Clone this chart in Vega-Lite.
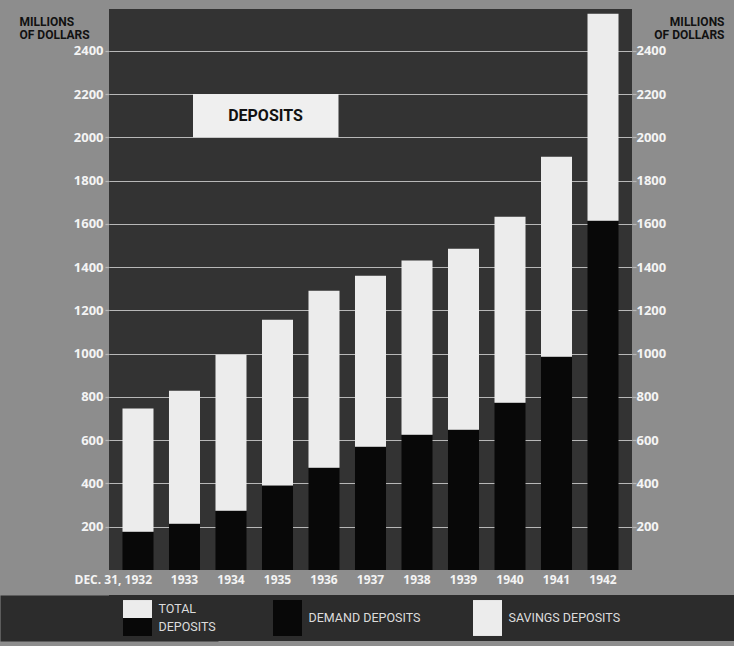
{
  "$schema": "https://vega.github.io/schema/vega-lite/v6.json",
  "background": "#8d8d8d",
  "padding": {"left": 0, "top": 9, "right": 0, "bottom": 5},
  "spacing": 10,
  "config": {"view": {"stroke": null}},
  "datasets": {
    "deposits": [
      {"year": 1932, "series": "Demand", "amount": 177},
      {"year": 1932, "series": "Savings", "amount": 569},
      {"year": 1933, "series": "Demand", "amount": 214},
      {"year": 1933, "series": "Savings", "amount": 615},
      {"year": 1934, "series": "Demand", "amount": 274},
      {"year": 1934, "series": "Savings", "amount": 721},
      {"year": 1935, "series": "Demand", "amount": 390},
      {"year": 1935, "series": "Savings", "amount": 767},
      {"year": 1936, "series": "Demand", "amount": 473},
      {"year": 1936, "series": "Savings", "amount": 818},
      {"year": 1937, "series": "Demand", "amount": 570},
      {"year": 1937, "series": "Savings", "amount": 790},
      {"year": 1938, "series": "Demand", "amount": 625},
      {"year": 1938, "series": "Savings", "amount": 805},
      {"year": 1939, "series": "Demand", "amount": 648},
      {"year": 1939, "series": "Savings", "amount": 837},
      {"year": 1940, "series": "Demand", "amount": 773},
      {"year": 1940, "series": "Savings", "amount": 860},
      {"year": 1941, "series": "Demand", "amount": 986},
      {"year": 1941, "series": "Savings", "amount": 924},
      {"year": 1942, "series": "Demand", "amount": 1614},
      {"year": 1942, "series": "Savings", "amount": 957}
    ],
    "titlebox": [
      {"label": "DEPOSITS", "from": 1933, "to": 1936, "at": 1935, "low": 2000, "high": 2200, "mid": 2100}
    ],
    "legend": [
      {"item": "TOTAL", "half": "upper", "series": "Savings"},
      {"item": "TOTAL", "half": "lower", "series": "Demand"},
      {"item": "DEMAND", "half": "upper", "series": "Demand"},
      {"item": "DEMAND", "half": "lower", "series": "Demand"},
      {"item": "SAVINGS", "half": "upper", "series": "Savings"},
      {"item": "SAVINGS", "half": "lower", "series": "Savings"}
    ],
    "legendtotal": [
      {"item": "TOTAL", "half": "upper", "label": "TOTAL"},
      {"item": "TOTAL", "half": "lower", "label": "DEPOSITS"}
    ],
    "legendlabels": [
      {"item": "DEMAND", "label": "DEMAND DEPOSITS"},
      {"item": "SAVINGS", "label": "SAVINGS DEPOSITS"}
    ]
  },
  "vconcat": [
    {
      "width": 523,
      "height": 561,
      "view": {"fill": "#333333", "stroke": null},
      "layer": [
        {
          "data": {"name": "deposits"},
          "mark": {"type": "bar"},
          "encoding": {
            "x": {
              "field": "year", "type": "ordinal",
              "scale": {"paddingInner": 0.333, "paddingOuter": 0.29},
              "axis": {
                "title": null, "labelAngle": 0, "ticks": false, "domain": false,
                "labelColor": "#f4f4f4", "labelFont": "Open Sans", "labelFontWeight": "bold", "labelFontSize": 12,
                "labelPadding": 4,
                "labelExpr": "datum.value == 1932 ? 'DEC. 31,  1932' : datum.label",
                "labelAlign": {"condition": {"test": "datum.value == 1932", "value": "right"}, "value": "center"},
                "labelOffset": {"condition": {"test": "datum.value == 1932", "value": 14}, "value": 0}
              }
            },
            "y": {
              "field": "amount", "type": "quantitative", "stack": "zero",
              "scale": {"domain": [0, 2593], "nice": false, "zero": true},
              "axis": {
                "orient": "left", "values": [200,400,600,800,1000,1200,1400,1600,1800,2000,2200,2400], "format": "d",
                "grid": true, "gridColor": "#b8b8b8", "gridWidth": 1.2, "domain": false,
                "tickColor": "#b8b8b8", "tickSize": 4, "tickWidth": 1.2,
                "labelColor": "#f4f4f4", "labelFont": "Open Sans", "labelFontWeight": "bold", "labelFontSize": 13, "labelPadding": 2,
                "minExtent": 109,
                "title": ["MILLIONS", "OF DOLLARS"],
                "titleFont": "Roboto",
                "titleFontSize": 12, "titleFontWeight": "bold", "titleColor": "#111111",
                "titleAngle": 0, "titleAlign": "left", "titleBaseline": "alphabetic",
                "titleX": -90, "titleY": 16, "titleLineHeight": 13
              }
            },
            "color": {"field": "series", "type": "nominal", "scale": {"domain": ["Demand", "Savings"], "range": ["#080808", "#ececec"]}, "legend": null},
            "order": {"field": "series", "sort": "ascending"}
          }
        },
        {
          "data": {"name": "titlebox"},
          "mark": {"type": "rect", "color": "#efefef", "xOffset": 8.5, "x2Offset": 14.5},
          "encoding": {
            "x": {"field": "from", "type": "ordinal"},
            "x2": {"field": "to"},
            "y": {
              "field": "low", "type": "quantitative",
              "scale": {"domain": [0, 2593], "nice": false, "zero": true},
              "axis": {
                "orient": "right", "values": [200,400,600,800,1000,1200,1400,1600,1800,2000,2200,2400], "format": "d",
                "grid": false, "domain": false,
                "tickColor": "#b8b8b8", "tickSize": 4, "tickWidth": 1.2,
                "labelColor": "#f4f4f4", "labelFont": "Open Sans", "labelFontWeight": "bold", "labelFontSize": 13, "labelPadding": 0,
                "title": ["MILLIONS", "OF DOLLARS"],
                "titleFont": "Roboto",
                "titleFontSize": 12, "titleFontWeight": "bold", "titleColor": "#111111",
                "titleAngle": 0, "titleAlign": "right", "titleBaseline": "alphabetic",
                "titleX": 92, "titleY": 16, "titleLineHeight": 13
              }
            },
            "y2": {"field": "high"}
          }
        },
        {
          "data": {"name": "titlebox"},
          "mark": {"type": "text", "font": "Roboto", "fontSize": 16, "fontWeight": "bold", "color": "#111111", "dx": -12, "baseline": "middle", "align": "center"},
          "encoding": {
            "x": {"field": "at", "type": "ordinal"},
            "y": {"field": "mid", "type": "quantitative", "scale": {"domain": [0, 2593], "nice": false, "zero": true}, "axis": null},
            "text": {"field": "label"}
          }
        }
      ],
      "resolve": {"axis": {"y": "independent"}}
    },
    {
      "width": 625,
      "height": 46,
      "view": {"fill": "#2c2c2c", "stroke": null},
      "layer": [
        {
          "data": {"name": "legend"},
          "mark": {"type": "rect"},
          "encoding": {
            "x": {"field": "item", "type": "nominal",
              "scale": {"domain": ["TOTAL", "g1", "g2", "DEMAND", "g3", "g4", "g5", "SAVINGS", "z1", "z2", "z3"], "paddingInner": 0.42, "paddingOuter": 0.96, "align": 0.146},
              "axis": null},
            "y": {"field": "half", "type": "nominal", "scale": {"domain": ["upper", "lower"], "paddingInner": 0, "paddingOuter": 0.28},
              "axis": {"orient": "left", "labels": false, "ticks": false, "title": null, "grid": false, "domain": true, "domainColor": "#2c2c2c", "domainWidth": 218, "zindex": 0}},
            "color": {"field": "series", "type": "nominal", "scale": {"domain": ["Demand", "Savings"], "range": ["#080808", "#ececec"]}, "legend": null}
          }
        },
        {
          "data": {"name": "legendtotal"},
          "mark": {"type": "text", "align": "left", "baseline": "middle", "dx": 21,
            "font": "Roboto", "fontSize": 12.5, "color": "#dcdcdc"},
          "encoding": {
            "x": {"field": "item", "type": "nominal"},
            "y": {"field": "half", "type": "nominal"},
            "text": {"field": "label"}
          }
        },
        {
          "data": {"name": "legendlabels"},
          "mark": {"type": "text", "align": "left", "baseline": "middle", "dx": 21,
            "font": "Roboto", "fontSize": 12.5, "color": "#dcdcdc"},
          "encoding": {
            "x": {"field": "item", "type": "nominal"},
            "text": {"field": "label"}
          }
        }
      ]
    }
  ]
}
